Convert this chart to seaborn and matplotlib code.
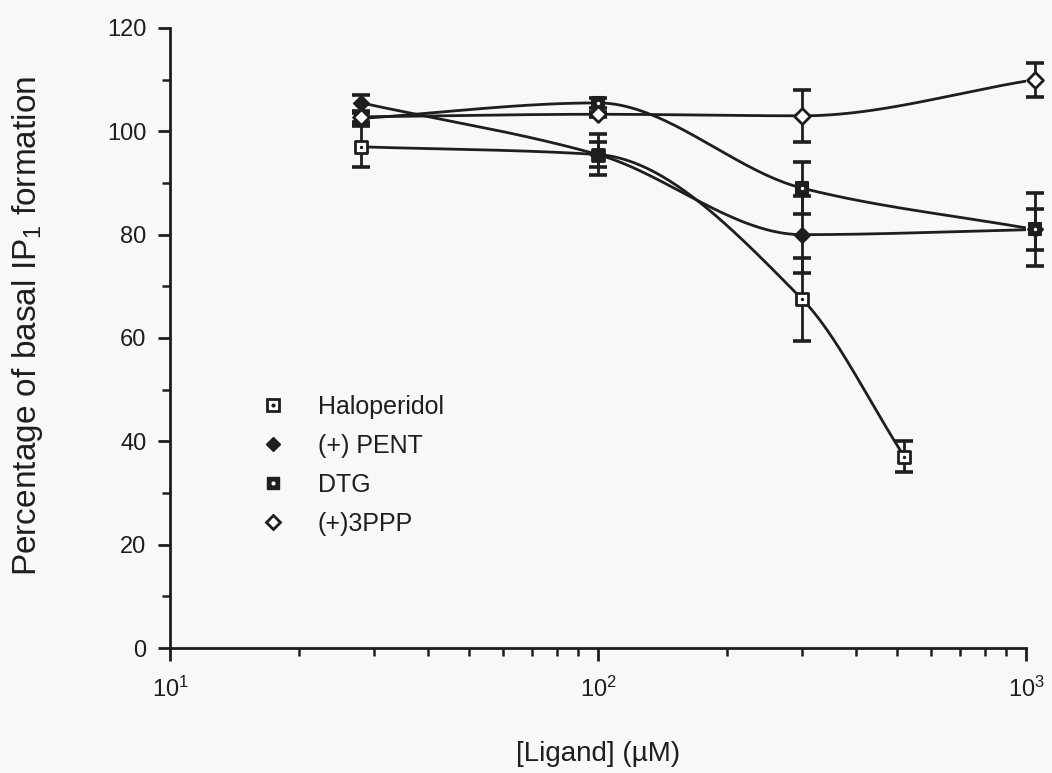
import numpy as np
import pandas as pd
import matplotlib
matplotlib.use("Agg")
import matplotlib.pyplot as plt
from matplotlib.ticker import MultipleLocator, LogLocator, NullFormatter
from matplotlib.lines import Line2D
from matplotlib.legend_handler import HandlerTuple
import seaborn as sns

# Ligand concentrations (uM)
conc = [28, 100, 300, 1050]
conc_halo = [28, 100, 300, 520]

# Percentage of basal IP1 formation (mean and error)
halo = [97.0, 95.5, 67.5, 37.0]
halo_err = [4.0, 2.5, 8.0, 3.0]
pent = [105.5, 95.5, 80.0, 81.0]
pent_err = [1.5, 4.0, 7.5, 4.0]
dtg = [102.5, 105.5, 89.0, 81.0]
dtg_err = [1.0, 1.0, 5.0, 7.0]
ppp = [102.8, 103.3, 103.0, 110.0]
ppp_err = [1.0, 0.5, 5.0, 3.3]

names = ["Haloperidol", "(+) PENT", "DTG", "(+)3PPP"]
y_ticks = [0, 20, 40, 60, 80, 100, 120]

INK = "#1e1e1e"
BG = "#f8f8f6"

sns.set_style("ticks")
plt.rcParams["font.family"] = ["Liberation Sans", "DejaVu Sans"]
plt.rcParams["mathtext.fontset"] = "custom"
plt.rcParams["mathtext.rm"] = "Liberation Sans"
plt.rcParams["mathtext.it"] = "Liberation Sans:italic"
plt.rcParams["mathtext.bf"] = "Liberation Sans:bold"


def pchip(x, y, xn):
    """Monotone cubic Hermite curve through the points (Fritsch-Carlson)."""
    x = np.asarray(x, float)
    y = np.asarray(y, float)
    h = np.diff(x)
    d = np.diff(y) / h
    m = np.zeros_like(y)
    m[0], m[-1] = d[0], d[-1]
    for k in range(1, len(x) - 1):
        if d[k - 1] * d[k] <= 0:
            m[k] = 0.0
        else:
            w1 = 2 * h[k] + h[k - 1]
            w2 = h[k] + 2 * h[k - 1]
            m[k] = (w1 + w2) / (w1 / d[k - 1] + w2 / d[k])
    out = np.empty_like(xn)
    for i, xv in enumerate(xn):
        k = min(np.searchsorted(x, xv, side="right") - 1, len(x) - 2)
        k = max(k, 0)
        t = (xv - x[k]) / h[k]
        h00 = 2 * t**3 - 3 * t**2 + 1
        h10 = t**3 - 2 * t**2 + t
        h01 = -2 * t**3 + 3 * t**2
        h11 = t**3 - t**2
        out[i] = h00 * y[k] + h10 * h[k] * m[k] + h01 * y[k + 1] + h11 * h[k] * m[k + 1]
    return out


fig = plt.figure(figsize=(10.52, 7.73), dpi=100, facecolor=BG)
ax = fig.add_axes([0.1616, 0.1617, 0.8137, 0.8021], facecolor=BG)
ax.set_xscale("log")

series = [
    (names[0], conc_halo, halo, halo_err),
    (names[1], conc, pent, pent_err),
    (names[2], conc, dtg, dtg_err),
    (names[3], conc, ppp, ppp_err),
]

# smooth connecting curves, drawn in log-concentration space
for name, xs, ys, es in series:
    lx = np.log10(xs)
    dense = np.linspace(lx[0], lx[-1], 300)
    curve = pd.DataFrame({"x": 10 ** dense, "y": pchip(lx, ys, dense)})
    sns.lineplot(data=curve, x="x", y="y", ax=ax, color=INK, lw=2.0,
                 sort=False, estimator=None, zorder=2)
    ax.errorbar(xs, ys, yerr=es, fmt="none", ecolor=INK, elinewidth=2.0,
                capsize=6.5, capthick=2.6, zorder=3, clip_on=False)

ms = 8.5
df_halo = pd.DataFrame({"x": conc_halo, "y": halo})
sns.scatterplot(data=df_halo, x="x", y="y", ax=ax, marker="s", s=ms**2,
                facecolor="white", edgecolor=INK, linewidth=2.0, zorder=5, clip_on=False)
sns.scatterplot(data=df_halo, x="x", y="y", ax=ax, marker="o", s=6,
                color=INK, linewidth=0, zorder=6, clip_on=False)

df_pent = pd.DataFrame({"x": conc, "y": pent})
sns.scatterplot(data=df_pent, x="x", y="y", ax=ax, marker="D", s=(ms * 0.95)**2,
                color=INK, edgecolor=INK, linewidth=1, zorder=5, clip_on=False)

df_dtg = pd.DataFrame({"x": conc, "y": dtg})
sns.scatterplot(data=df_dtg, x="x", y="y", ax=ax, marker="s", s=ms**2,
                color=INK, edgecolor=INK, linewidth=1.5, zorder=5, clip_on=False)
sns.scatterplot(data=df_dtg, x="x", y="y", ax=ax, marker="o", s=6,
                color="white", linewidth=0, zorder=6, clip_on=False)

df_ppp = pd.DataFrame({"x": conc, "y": ppp})
sns.scatterplot(data=df_ppp, x="x", y="y", ax=ax, marker="D", s=(ms * 0.95)**2,
                facecolor="white", edgecolor=INK, linewidth=2.0, zorder=5, clip_on=False)

ax.set_xlim(10, 1000)
ax.set_ylim(0, 120)
ax.set_yticks(y_ticks)
ax.yaxis.set_minor_locator(MultipleLocator(10))
ax.xaxis.set_minor_locator(LogLocator(base=10, subs=np.arange(2, 10), numticks=20))
ax.xaxis.set_minor_formatter(NullFormatter())

sns.despine(ax=ax)
for side in ("left", "bottom"):
    ax.spines[side].set_color(INK)
    ax.spines[side].set_linewidth(2.0)
ax.tick_params(axis="both", which="major", direction="out", length=9, width=2.0,
               color=INK, labelcolor=INK, labelsize=17)
ax.tick_params(axis="both", which="minor", direction="out", length=6, width=1.8, color=INK)
ax.tick_params(axis="x", which="major", pad=12)
ax.tick_params(axis="y", which="major", pad=8)

ax.set_xlabel("[Ligand] (µM)", fontsize=20, color=INK, labelpad=28)
ax.set_ylabel("Percentage of basal IP$_1$ formation", fontsize=24, color=INK)
ax.yaxis.set_label_coords(-0.146, 0.52)

# legend: marker glyphs only
h_halo = (Line2D([], [], marker="s", ls="none", ms=8, mfc="white", mec=INK, mew=2),
          Line2D([], [], marker="o", ls="none", ms=2, mfc=INK, mec=INK))
h_pent = Line2D([], [], marker="D", ls="none", ms=7.5, mfc=INK, mec=INK)
h_dtg = (Line2D([], [], marker="s", ls="none", ms=8, mfc=INK, mec=INK),
         Line2D([], [], marker="o", ls="none", ms=2, mfc="white", mec="white"))
h_ppp = Line2D([], [], marker="D", ls="none", ms=7.5, mfc="white", mec=INK, mew=2)
leg = ax.legend([h_halo, h_pent, h_dtg, h_ppp], names,
                handler_map={tuple: HandlerTuple(ndivide=1, pad=0)},
                loc="upper left", bbox_to_anchor=(0.079, 0.445), frameon=False,
                fontsize=18, handlelength=1.0, handletextpad=1.3, labelspacing=0.6)
for t in leg.get_texts():
    t.set_color(INK)

fig.savefig("out.png", dpi=100, facecolor=BG)
